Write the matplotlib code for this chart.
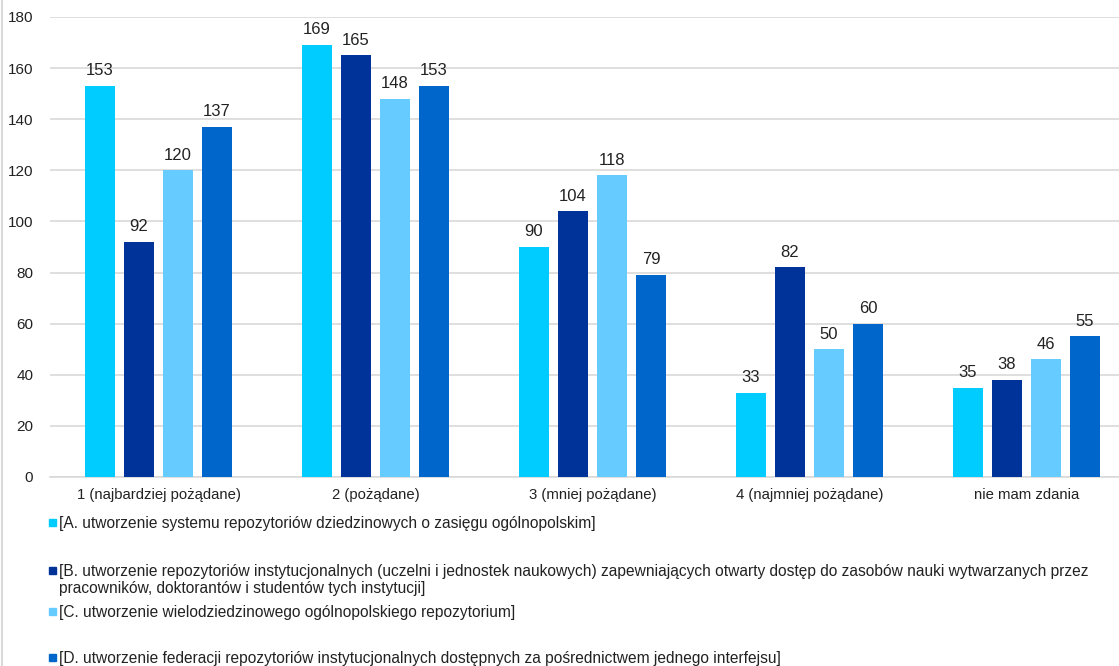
import matplotlib.pyplot as plt
import numpy as np
from matplotlib.patches import Rectangle
from matplotlib.lines import Line2D

plt.rcParams['font.family'] = ['Liberation Sans', 'DejaVu Sans']

categories = ['1 (najbardziej pożądane)', '2 (pożądane)', '3 (mniej pożądane)',
              '4 (najmniej pożądane)', 'nie mam zdania']
series_a = [153, 169, 90, 33, 35]
series_b = [92, 165, 104, 82, 38]
series_c = [120, 148, 118, 50, 46]
series_d = [137, 153, 79, 60, 55]
labels = [
    '[A. utworzenie systemu repozytoriów dziedzinowych o zasięgu ogólnopolskim]',
    '[B. utworzenie repozytoriów instytucjonalnych (uczelni i jednostek naukowych) zapewniających otwarty dostęp do zasobów nauki wytwarzanych przez\npracowników, doktorantów i studentów tych instytucji]',
    '[C. utworzenie wielodziedzinowego ogólnopolskiego repozytorium]',
    '[D. utworzenie federacji repozytoriów instytucjonalnych dostępnych za pośrednictwem jednego interfejsu]',
]
colors = ['#00CCFF', '#003399', '#66CCFF', '#0066CC']

W, H = 1119, 666
fig = plt.figure(figsize=(W / 100, H / 100), dpi=100)
# axes: x from 50px, 5 groups of 217px; y from 17px (180) to 477px (0)
ax = fig.add_axes([50 / W, 1 - 477 / H, 5 * 217 / W, 460 / H])

x = np.arange(len(categories))
width = 0.138
pitch = 0.18
all_series = [series_a, series_b, series_c, series_d]
for i, (vals, col) in enumerate(zip(all_series, colors)):
    pos = x + (i - 1.5) * pitch
    bars = ax.bar(pos, vals, width, color=col, zorder=3)
    for b, v in zip(bars, vals):
        ax.text(b.get_x() + b.get_width() / 2, v + 3, str(v), ha='center', va='bottom',
                fontsize=12, color='#222222')

ax.set_xlim(-0.5, len(categories) - 0.5)
ax.set_ylim(0, 180)
ax.set_yticks(range(0, 181, 20))
ax.set_xticks(x)
ax.set_xticklabels(categories, fontsize=10.7)
ax.tick_params(axis='both', length=0, colors='#222222')
ax.tick_params(axis='y', pad=12, labelsize=11)
ax.tick_params(axis='x', pad=8)
ax.grid(axis='y', color='#D9D9D9', linewidth=1.2, zorder=0)
for s in ['top', 'right', 'left']:
    ax.spines[s].set_visible(False)
ax.spines['bottom'].set_color('#D9D9D9')
ax.spines['bottom'].set_linewidth(1.2)

# legend entries placed manually
legend_y = [525, 573, 614, 660]
for lab, col, yy in zip(labels, colors, legend_y):
    fig.patches.append(Rectangle((49 / W, 1 - (yy + 1) / H), 7 / W, 7 / H,
                                 transform=fig.transFigure, color=col))
    fig.text(59 / W, 1 - (yy - 9) / H, lab, ha='left', va='top', fontsize=11.2,
             color='#222222', linespacing=1.2)

# thin border on the left edge
fig.lines.append(Line2D([2 / W, 2 / W], [0, 1], transform=fig.transFigure,
                        color='#D9D9D9', linewidth=1.5))

fig.savefig('out.png', dpi=100)
